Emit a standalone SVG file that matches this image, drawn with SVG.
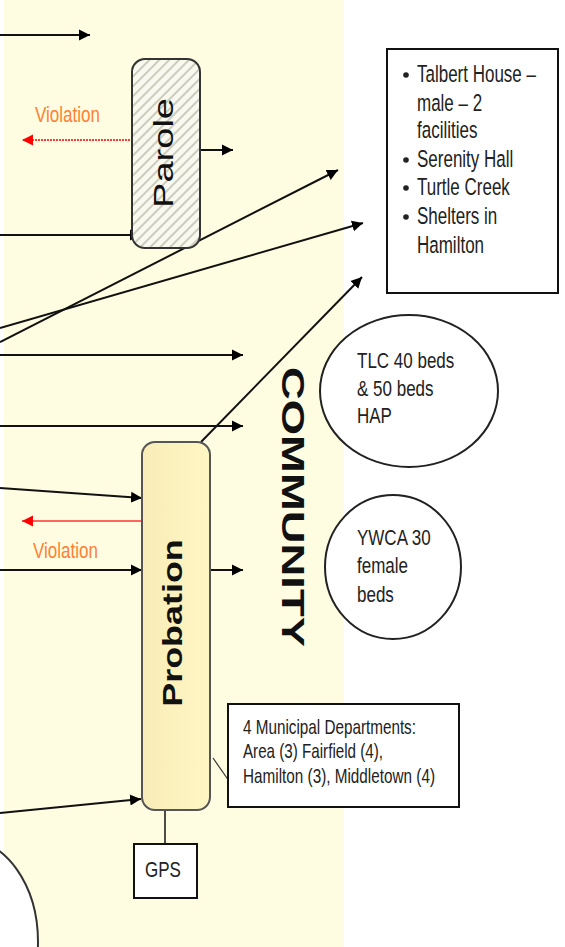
<svg xmlns="http://www.w3.org/2000/svg" width="565" height="947" viewBox="0 0 565 947">
  <style>
    .ln{stroke:#111;stroke-width:2;fill:none}
    .arr{marker-end:url(#ah)}
    .t{font-family:"Liberation Sans",Arial,sans-serif;font-size:17px;fill:#222}
    .vio{font-family:"Liberation Sans",Arial,sans-serif;font-size:17px;fill:#FF8033}
    .box{fill:#fff;stroke:#111;stroke-width:2}
    .bul{fill:#222}
  </style>
  <defs>
    <marker id="ah" viewBox="0 0 10 10" refX="10" refY="5" markerWidth="11" markerHeight="12" markerUnits="userSpaceOnUse" orient="auto">
      <path d="M0,0 L10,5 L0,10 z" fill="#000"/>
    </marker>
    <marker id="ahr" viewBox="0 0 10 10" refX="10" refY="5" markerWidth="11" markerHeight="12" markerUnits="userSpaceOnUse" orient="auto">
      <path d="M0,0 L10,5 L0,10 z" fill="#FF0000"/>
    </marker>
    <pattern id="hatch" width="7" height="7" patternUnits="userSpaceOnUse" patternTransform="rotate(45)">
      <rect width="7" height="7" fill="#F9F9EF"/>
      <line x1="1" y1="0" x2="1" y2="7" stroke="#CCCCBE" stroke-width="2"/>
    </pattern>
    <linearGradient id="probG" x1="0" y1="0" x2="1" y2="0">
      <stop offset="0" stop-color="#F8EDB8"/>
      <stop offset="1" stop-color="#FFF6C4"/>
    </linearGradient>
  </defs>

  <rect x="0" y="0" width="565" height="947" fill="#fff"/>
  <rect id="community-band" x="4" y="0" width="340" height="947" fill="#FFFDE1"/>

  <g id="community-label">
    <text transform="translate(282,507) rotate(90) scale(1.42,1)" text-anchor="middle" font-family="Liberation Sans,Arial,sans-serif" font-size="32" font-weight="bold" fill="#111">COMMUNITY</text>
  </g>

  <g id="connectors">
    <line class="ln arr" x1="0" y1="35" x2="90" y2="35"/>
    <line x1="133" y1="140" x2="22" y2="140" stroke="#FF3B3B" stroke-width="2" stroke-dasharray="2,1" marker-end="url(#ahr)"/>
    <line class="ln arr" x1="201" y1="150" x2="233" y2="150"/>
    <line class="ln arr" x1="0" y1="235" x2="141" y2="235"/>
    <line class="ln arr" x1="0" y1="342" x2="338" y2="170"/>
    <line class="ln arr" x1="0" y1="328" x2="363" y2="223"/>
    <line class="ln arr" x1="0" y1="355" x2="243" y2="355"/>
    <line class="ln arr" x1="0" y1="426" x2="243" y2="426"/>
    <line class="ln arr" x1="201" y1="442" x2="362" y2="277"/>
    <line class="ln arr" x1="0" y1="488" x2="142" y2="498"/>
    <line x1="143" y1="521" x2="22" y2="521" stroke="#FF3333" stroke-width="1.5" marker-end="url(#ahr)"/>
    <line class="ln arr" x1="0" y1="570" x2="142" y2="570"/>
    <line class="ln arr" x1="210" y1="570" x2="243" y2="570"/>
    <line class="ln arr" x1="0" y1="813" x2="141" y2="799"/>
    <line x1="165" y1="810" x2="165" y2="844" stroke="#111" stroke-width="1.5"/>
    <line x1="213" y1="758" x2="229" y2="781" stroke="#333" stroke-width="1.2"/>
  </g>

  <g id="violation-labels">
    <text class="vio" transform="matrix(1 0 0 1.25 35 122)">Violation</text>
    <text class="vio" transform="matrix(1 0 0 1.25 33 558)">Violation</text>
  </g>

  <g id="parole">
    <rect x="132" y="59" width="68" height="189" rx="13" fill="url(#hatch)" stroke="#333" stroke-width="2"/>
    <text transform="translate(173,153) rotate(-90) scale(1.41,1)" text-anchor="middle" font-family="Liberation Sans,Arial,sans-serif" font-size="27" fill="#111">Parole</text>
  </g>

  <g id="probation">
    <rect x="142" y="442" width="68" height="368" rx="13" fill="url(#probG)" stroke="#555" stroke-width="2"/>
    <text transform="translate(182,623) rotate(-90) scale(1.33,1)" text-anchor="middle" font-family="Liberation Sans,Arial,sans-serif" font-size="27" font-weight="bold" fill="#111">Probation</text>
  </g>

  <g id="gps">
    <rect class="box" x="134" y="844" width="63" height="54" stroke-width="1.5"/>
    <text class="t" transform="matrix(1 0 0 1.25 163 877)" text-anchor="middle" font-size="14.7">GPS</text>
  </g>

  <g id="municipal">
    <rect class="box" x="228" y="704" width="231" height="103"/>
    <text class="t" font-size="15" textLength="173" lengthAdjust="spacingAndGlyphs" transform="matrix(1 0 0 1.2 243 734)">4 Municipal Departments:</text>
    <text class="t" font-size="15" textLength="140" lengthAdjust="spacingAndGlyphs" transform="matrix(1 0 0 1.2 243 758)">Area (3) Fairfield (4),</text>
    <text class="t" font-size="15" textLength="192" lengthAdjust="spacingAndGlyphs" transform="matrix(1 0 0 1.2 243 783)">Hamilton (3), Middletown (4)</text>
  </g>

  <g id="talbert">
    <rect class="box" x="387" y="49" width="171" height="244"/>
    <circle class="bul" cx="406" cy="75" r="2.8"/>
    <circle class="bul" cx="406" cy="160" r="2.8"/>
    <circle class="bul" cx="406" cy="188" r="2.8"/>
    <circle class="bul" cx="406" cy="217" r="2.8"/>
    <text class="t" transform="matrix(1 0 0 1.37 417 82)">Talbert House –</text>
    <text class="t" transform="matrix(1 0 0 1.37 417 111)">male – 2</text>
    <text class="t" transform="matrix(1 0 0 1.37 417 138)">facilities</text>
    <text class="t" transform="matrix(1 0 0 1.37 417 167)">Serenity Hall</text>
    <text class="t" transform="matrix(1 0 0 1.37 417 195)">Turtle Creek</text>
    <text class="t" transform="matrix(1 0 0 1.37 417 224)">Shelters in</text>
    <text class="t" transform="matrix(1 0 0 1.37 417 253)">Hamilton</text>
  </g>

  <g id="tlc">
    <ellipse cx="409" cy="391" rx="89" ry="76" fill="#fff" stroke="#222" stroke-width="2"/>
    <text class="t" transform="matrix(1 0 0 1.25 357 368)">TLC 40 beds</text>
    <text class="t" transform="matrix(1 0 0 1.25 357 396)">&amp; 50 beds</text>
    <text class="t" transform="matrix(1 0 0 1.25 357 423)">HAP</text>
  </g>

  <g id="ywca">
    <ellipse cx="393" cy="567" rx="68" ry="72" fill="#fff" stroke="#222" stroke-width="2"/>
    <text class="t" transform="matrix(1 0 0 1.25 357 545)">YWCA 30</text>
    <text class="t" transform="matrix(1 0 0 1.25 357 573)">female</text>
    <text class="t" transform="matrix(1 0 0 1.25 357 602)">beds</text>
  </g>

  <g id="bottom-circle">
    <ellipse cx="-35" cy="942" rx="73" ry="103" fill="#fff" stroke="#333" stroke-width="2"/>
  </g>
</svg>
